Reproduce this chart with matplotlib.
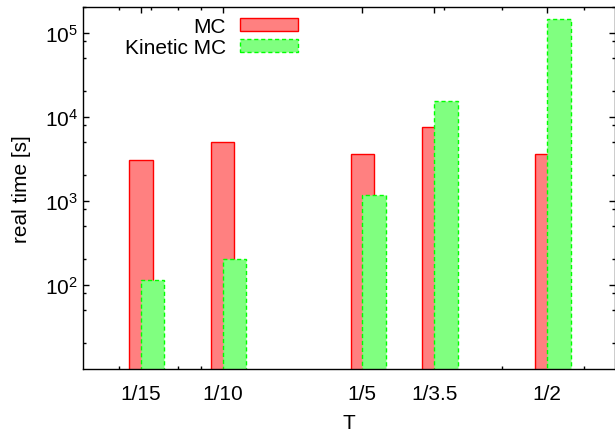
import matplotlib
matplotlib.use("Agg")
import matplotlib.pyplot as plt
import numpy as np
from matplotlib.ticker import FixedLocator, NullFormatter

plt.rcParams["font.family"] = ["Liberation Sans", "DejaVu Sans"]
plt.rcParams["mathtext.fontset"] = "custom"
plt.rcParams["mathtext.rm"] = "Liberation Sans"
plt.rcParams["mathtext.it"] = "Liberation Sans:italic"

# ── data ────────────────────────────────────────────────────────────────────
T_vals   = [1 / 15, 1 / 10, 1 / 5, 1 / 3.5, 1 / 2]
T_labels = ["1/15", "1/10", "1/5", "1/3.5", "1/2"]
mc_time  = [3050, 4950, 3600, 7600, 3550]
kmc_time = [114, 204, 1180, 15500, 145000]

FS = 15

# ── canvas ──────────────────────────────────────────────────────────────────
fig = plt.figure(figsize=(6.15, 4.35), dpi=100)
ax = fig.add_axes([0.1345, 0.150, 0.8655, 0.831])
ax.set_xscale("log")
ax.set_yscale("log")
ax.set_xlim(0.05, 0.7)
ax.set_ylim(10, 2e5)

# bar half-width in log space
h = 0.0585
T = np.array(T_vals)
ax.bar(T * np.exp(-h), mc_time, width=T * np.exp(h) - T * np.exp(-h),
       align="edge", bottom=1, color="#ff8080", edgecolor="#ff0000",
       linewidth=1.0, label="MC", zorder=2)
ax.bar(T, kmc_time, width=T * np.exp(2 * h) - T,
       align="edge", bottom=1, color="#80ff80", edgecolor="#00ff00",
       linewidth=1.0, linestyle=(0, (3, 2)), label="Kinetic MC", zorder=3)

# ── ticks ───────────────────────────────────────────────────────────────────
ax.xaxis.set_major_locator(FixedLocator(T_vals))
ax.set_xticklabels(T_labels)
ax.xaxis.set_minor_locator(FixedLocator([0.06, 0.07, 0.08, 0.09, 0.3, 0.4, 0.6]))
ax.xaxis.set_minor_formatter(NullFormatter())

ax.yaxis.set_major_locator(FixedLocator([1e2, 1e3, 1e4, 1e5]))
ym = []
for d in [1e1, 1e2, 1e3, 1e4, 1e5]:
    ym += [2 * d, 5 * d, 8 * d]
ax.yaxis.set_minor_locator(FixedLocator(ym))
ax.yaxis.set_minor_formatter(NullFormatter())

ax.tick_params(which="both", direction="in", top=True, right=True,
               labelsize=FS, colors="black", width=1.0)
ax.tick_params(which="major", length=4.5)
ax.tick_params(which="minor", length=2.5)
ax.tick_params(axis="x", which="major", pad=11)
ax.tick_params(axis="y", which="major", pad=3.5)
for s in ax.spines.values():
    s.set_linewidth(1.0)
    s.set_zorder(5)

ax.set_xlabel("T", fontsize=FS, labelpad=7)
ax.set_ylabel("real time [s]", fontsize=FS, labelpad=10)

# ── legend ──────────────────────────────────────────────────────────────────
ax.legend(loc="upper right", bbox_to_anchor=(298 / 615, 1 - 18 / 435),
          bbox_transform=fig.transFigure, frameon=False, markerfirst=False,
          fontsize=FS, handlelength=2.8, handleheight=0.56,
          handletextpad=0.65, labelspacing=0.1, borderpad=0, borderaxespad=0)

fig.savefig("out.png", dpi=100, facecolor="white")
